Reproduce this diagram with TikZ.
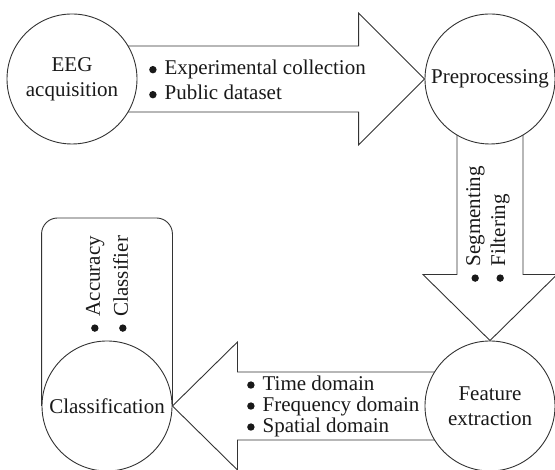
\documentclass[tikz,border=0pt]{standalone}
\usepackage{fontspec}
\setmainfont{Liberation Serif}
\usetikzlibrary{backgrounds,calc}
\newcommand{\bigbul}{\tikz[baseline=-5pt]\fill[black!90] (0,0) circle (3.7pt);\hspace{8pt}}
\begin{document}
\begin{tikzpicture}[x=1pt,y=1pt,
  stage/.style={circle, draw=black!80, line width=0.9pt, fill=white, minimum size=130pt, inner sep=0pt, align=center, text=black!90, font=\fontsize{21}{25}\selectfont},
  barrow/.style={draw=black!80, line width=0.9pt, fill=white, line join=miter},
  frame/.style={draw=black!80, line width=0.9pt, rounded corners=16pt},
  lbl/.style={inner sep=0pt, align=left, text=black!90, font=\fontsize{21}{25}\selectfont}]
\clip (0,0) rectangle (555,470);
\node[stage] (eeg) at (72,391) {EEG\\acquisition};
\node[stage] (pre) at (490,391) {Preprocessing};
\node[stage] (fea) at (490,64) {Feature\\extraction};
\node[stage] (cls) at (107,64) {Classification};
\begin{scope}[on background layer]
  \draw[frame] (cls.west) -- ++(0,188) -| (cls.east);
  \draw[barrow] ([yshift=33pt]eeg.center) -- ([xshift=-66pt,yshift=33pt]pre.west) -- ([xshift=-66pt,yshift=66pt]pre.west) -- (pre.west) -- ([xshift=-66pt,yshift=-66pt]pre.west) -- ([xshift=-66pt,yshift=-33pt]pre.west) -- ([yshift=-33pt]eeg.center) -- cycle;
  \draw[barrow] ([xshift=-33pt]pre.center) -- ([xshift=-33pt,yshift=66pt]fea.north) -- ([xshift=-67pt,yshift=66pt]fea.north) -- (fea.north) -- ([xshift=67pt,yshift=66pt]fea.north) -- ([xshift=33pt,yshift=66pt]fea.north) -- ([xshift=33pt]pre.center) -- cycle;
  \draw[barrow] ([yshift=34pt]fea.center) -- ([xshift=65pt,yshift=34pt]cls.east) -- ([xshift=65pt,yshift=64pt]cls.east) -- (cls.east) -- ([xshift=65pt,yshift=-64pt]cls.east) -- ([xshift=65pt,yshift=-34pt]cls.east) -- ([yshift=-34pt]fea.center) -- cycle;
\end{scope}
\node[lbl, anchor=west] (t1) at (149,390) {\bigbul Experimental collection\\\bigbul Public dataset};
\node[lbl, rotate=90, anchor=west] (t2) at (488,188) {\bigbul Segmenting\\\bigbul Filtering};
\node[lbl, rotate=90, anchor=west, font=\fontsize{21}{28}\selectfont] (t3) at (107,138) {\bigbul Accuracy\\\bigbul Classifier};
\node[lbl, anchor=west, font=\fontsize{21}{21}\selectfont] (t4) at (247,64) {\bigbul Time domain\\\bigbul Frequency domain\\\bigbul Spatial domain};
\end{tikzpicture}
\end{document}
